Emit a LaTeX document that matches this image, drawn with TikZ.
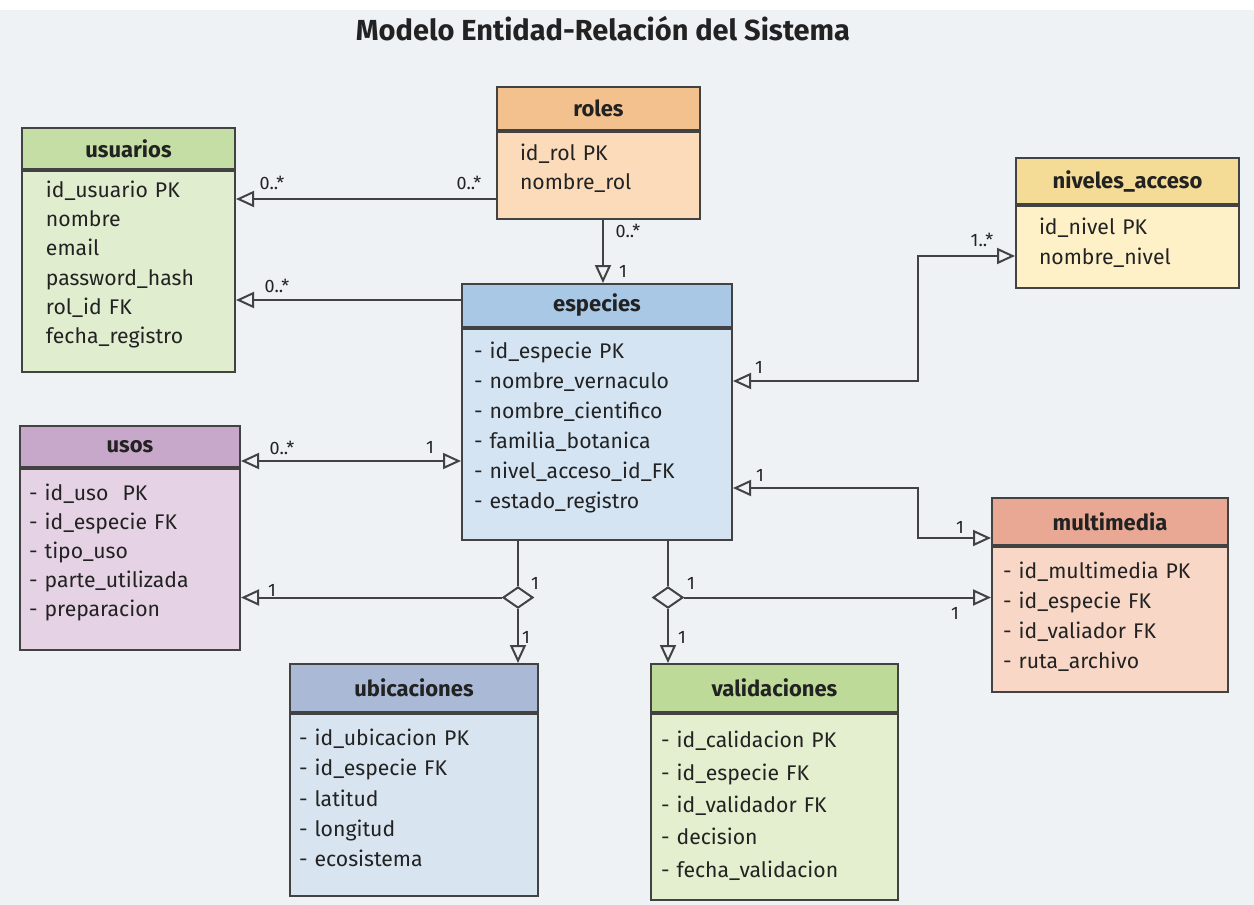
\documentclass[tikz,border=0pt]{standalone}
\usepackage{fontspec}
\setmainfont{Fira Sans}
\usetikzlibrary{shapes,arrows.meta,positioning,calc}
\usepackage{xcolor}
\definecolor{bgpaper}{RGB}{238,242,245}
\definecolor{linegray}{RGB}{66,66,66}
\definecolor{ink}{RGB}{34,34,34}
\definecolor{usuhead}{RGB}{197,222,165}
\definecolor{usubody}{RGB}{225,237,207}
\definecolor{rolhead}{RGB}{242,193,142}
\definecolor{rolbody}{RGB}{251,219,186}
\definecolor{nivhead}{RGB}{245,220,150}
\definecolor{nivbody}{RGB}{254,241,199}
\definecolor{esphead}{RGB}{168,200,230}
\definecolor{espbody}{RGB}{212,228,243}
\definecolor{usohead}{RGB}{200,168,202}
\definecolor{usobody}{RGB}{229,211,229}
\definecolor{mulhead}{RGB}{232,168,148}
\definecolor{mulbody}{RGB}{248,215,199}
\definecolor{ubihead}{RGB}{170,186,214}
\definecolor{ubibody}{RGB}{216,228,240}
\definecolor{valhead}{RGB}{190,218,153}
\definecolor{valbody}{RGB}{227,239,206}
\newcommand{\attrgap}{\par\vspace*{7pt}}

\begin{document}
\begin{tikzpicture}[x=0.5pt, y=-0.5pt,
    entity/.style={rectangle, draw=linegray, line width=1pt, anchor=north west, inner sep=0pt, text=ink, font=\fontsize{11}{13}\selectfont\bfseries},
    attrs/.style={rectangle, draw=linegray, line width=1pt, anchor=north west, align=left, inner ysep=0pt, text=ink, font=\fontsize{10.6}{14.6}\selectfont, execute at end node=\attrgap},
    rel/.style={draw=linegray, line width=1pt, -{Triangle[open, length=9pt, width=8pt]}},
    relboth/.style={rel, {Triangle[open, length=9pt, width=8pt]}-{Triangle[open, length=9pt, width=8pt]}},
    plainline/.style={draw=linegray, line width=1pt},
    card/.style={inner sep=0pt, text=ink, font=\fontsize{9}{10}\selectfont},
    joint/.style={diamond, draw=linegray, line width=1pt, fill=bgpaper, minimum width=15pt, minimum height=10.5pt, inner sep=0pt}]
    \useasboundingbox (0,0) rectangle (1254,905);
    \fill[white] (0,0) rectangle (1254,905);
    \fill[bgpaper] (0,10) rectangle (1254,905);
    \node[anchor=base, text=ink, font=\fontsize{14.5}{18}\selectfont\bfseries] (title) at (603,40) {Modelo Entidad-Relación del Sistema};
    % entities
    \node[entity, fill=usuhead, minimum width=106.5pt, minimum height=20.5pt] (usuariosT) at (21,127) {usuarios};
    \node[attrs, fill=usubody, inner xsep=12pt, text width=82.5pt, minimum height=100.5pt] (usuarios) at (usuariosT.south west) {id\_usuario PK\\nombre\\email\\password\_hash\\rol\_id FK\\fecha\_registro};
    \node[entity, fill=rolhead, minimum width=101.5pt, minimum height=21.5pt] (rolesT) at (496,86) {roles};
    \node[attrs, fill=rolbody, inner xsep=11.5pt, text width=78.5pt, minimum height=43.5pt] (roles) at (rolesT.south west) {id\_rol PK\\nombre\_rol};
    \node[entity, fill=nivhead, minimum width=111.5pt, minimum height=23pt] (nivelesT) at (1015,157) {niveles\_acceso};
    \node[attrs, fill=nivbody, inner xsep=11.5pt, text width=88.5pt, minimum height=41pt] (niveles) at (nivelesT.south west) {\rule{0pt}{11pt}id\_nivel PK\\nombre\_nivel};
    \node[entity, fill=esphead, minimum width=135pt, minimum height=21.5pt] (especiesT) at (461,283) {especies};
    \node[attrs, fill=espbody, inner xsep=6pt, text width=123pt, minimum height=105.5pt, font=\fontsize{10.6}{15}\selectfont] (especies) at (especiesT.south west) {- id\_especie PK\\- nombre\_vernaculo\\- nombre\_cientifico\\- familia\_botanica\\- nivel\_acceso\_id\_FK\\- estado\_registro};
    \node[entity, fill=usohead, minimum width=110pt, minimum height=20.5pt] (usosT) at (19,425) {usos};
    \node[attrs, fill=usobody, inner xsep=4.5pt, text width=101pt, minimum height=90.5pt] (usos) at (usosT.south west) {- id\_uso\ \ PK\\- id\_especie FK\\- tipo\_uso\\- parte\_utilizada\\- preparacion};
    \node[entity, fill=mulhead, minimum width=118pt, minimum height=23.5pt] (multimediaT) at (991,497) {multimedia};
    \node[attrs, fill=mulbody, inner xsep=5.5pt, text width=107pt, minimum height=72.5pt, font=\fontsize{10.6}{15}\selectfont] (multimedia) at (multimediaT.south west) {\rule{0pt}{12pt}- id\_multimedia PK\\- id\_especie FK\\- id\_valiador FK\\- ruta\_archivo};
    \node[entity, fill=ubihead, minimum width=124pt, minimum height=24pt] (ubicacionesT) at (289,663) {ubicaciones};
    \node[attrs, fill=ubibody, inner xsep=4.5pt, text width=115pt, minimum height=91pt, font=\fontsize{10.6}{15.2}\selectfont] (ubicaciones) at (ubicacionesT.south west) {- id\_ubicacion PK\\- id\_especie FK\\- latitud\\- longitud\\- ecosistema};
    \node[entity, fill=valhead, minimum width=123.5pt, minimum height=24pt] (validacionesT) at (650,663) {validaciones};
    \node[attrs, fill=valbody, inner xsep=5pt, text width=113.5pt, minimum height=93pt, font=\fontsize{10.6}{16.2}\selectfont] (validaciones) at (validacionesT.south west) {\rule{0pt}{14pt}- id\_calidacion PK\\- id\_especie FK\\- id\_validador FK\\- decision\\- fecha\_validacion};
    % relations
    \coordinate (rolesW) at ($(roles.west)+(0,23.5)$);
    \coordinate (rolesS) at ($(roles.south)+(4.5,0)$);
    \coordinate (espW1) at ($(especiesT.west)+(0,-5.5)$);
    \coordinate (espW2) at ($(especies.west)+(0,26.5)$);
    \coordinate (espE1) at ($(especies.east)+(0,-53.5)$);
    \coordinate (espE2) at ($(especies.east)+(0,53.5)$);
    \coordinate (nivW) at ($(niveles.west)+(0,9)$);
    \coordinate (mulW) at ($(multimediaT.west)+(0,16.5)$);
    \draw[rel] (rolesW) -- (rolesW -| usuarios.east);
    \draw[rel] (rolesS) -- (rolesS |- especiesT.north);
    \draw[rel] (espW1) -- (espW1 -| usuarios.east);
    \draw[relboth] (espE1) -- ++(185,0) |- (nivW);
    \draw[relboth] (espW2 -| usosT.east) -- (espW2);
    \draw[relboth] (espE2) -- ++(185,0) |- (mulW);
    \node[joint] (jointU) at (518,597.5) {};
    \node[joint] (jointV) at (668,597.5) {};
    \draw[plainline] (especies.south -| jointU) -- (jointU.north);
    \draw[rel] (jointU.west) -- (jointU.west -| usos.east);
    \draw[rel] (jointU.south) -- (jointU.south |- ubicacionesT.north);
    \draw[plainline] (especies.south -| jointV) -- (jointV.north);
    \draw[rel] (jointV.east) -- (jointV.east -| multimedia.west);
    \draw[rel] (jointV.south) -- (jointV.south |- validacionesT.north);
    % multiplicities
    \node[card] (c1) at (272,183) {0..*};
    \node[card] (c2) at (469,183) {0..*};
    \node[card] (c3) at (628,231) {0..*};
    \node[card] (c4) at (623,271) {1};
    \node[card] (c5) at (277,286) {0..*};
    \node[card] (c6) at (759,367) {1};
    \node[card] (c7) at (982,240) {1..*};
    \node[card] (c8) at (282,448) {0..*};
    \node[card] (c9) at (430,447) {1};
    \node[card] (c10) at (760,475) {1};
    \node[card] (c11) at (960,527) {1};
    \node[card] (c12) at (535,583) {1};
    \node[card] (c13) at (526,637) {1};
    \node[card] (c14) at (272,590) {1};
    \node[card] (c15) at (691,583) {1};
    \node[card] (c16) at (955,613) {1};
    \node[card] (c17) at (682,637) {1};
\end{tikzpicture}
\end{document}
